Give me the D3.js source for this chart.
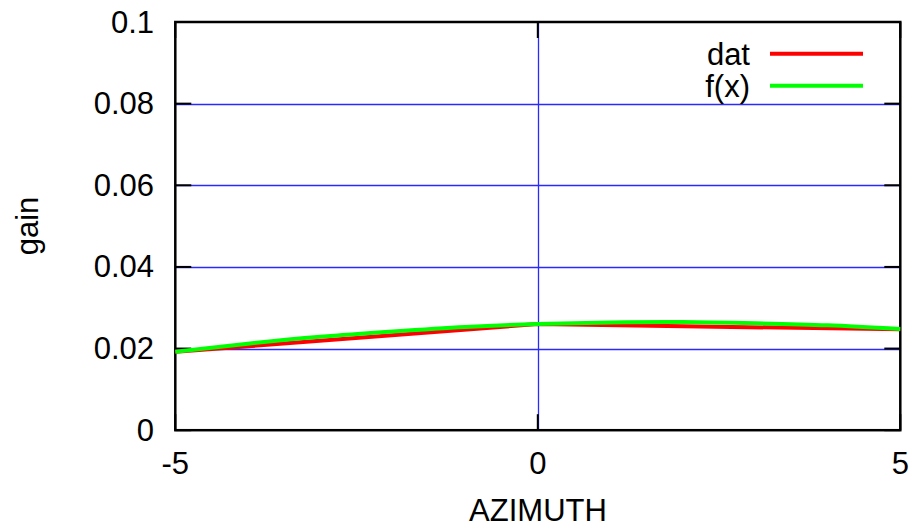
<!DOCTYPE html>
<html><head><meta charset="utf-8">
<script src="https://cdn.jsdelivr.net/npm/d3@7"></script>
<style>body{margin:0;background:#fff}svg{display:block}text{font-family:"Liberation Sans",Arial,sans-serif}</style>
</head><body>
<svg id="c" width="919" height="529"></svg>
<script>
const xTicks = [-5, 0, 5];
const yTicks = [0, 0.02, 0.04, 0.06, 0.08, 0.1];
const yTickLabels = ["0", "0.02", "0.04", "0.06", "0.08", "0.1"];
const datX = [-5, 0, 5];
const datY = [0.0192, 0.0260, 0.0247];
const fitX = [-5, -4, -3, -2, -1, 0, 1, 2, 3, 4, 5];
const fitY = [0.0192, 0.0212, 0.0229, 0.0242, 0.0253, 0.0260, 0.0264, 0.0265, 0.0262, 0.0257, 0.0248];
const seriesNames = ["dat", "f(x)"];
const seriesColors = ["#ff0000", "#00ff00"];

const svg = d3.select("#c");
const L = 175.3, R = 900.3, T = 22, B = 430.2;
const x = d3.scaleLinear().domain([-5, 5]).range([L, R]);
const y = d3.scaleLinear().domain([0, 0.1]).range([B, T]);
const fs = 31;
const gridColor = "#2a2aff";

// grid
svg.append("g").selectAll("line").data(yTicks.filter(v => v > 0 && v < 0.1)).join("line")
  .attr("x1", L).attr("x2", R).attr("y1", d => Math.round(y(d)) + 0.5).attr("y2", d => Math.round(y(d)) + 0.5)
  .attr("stroke", gridColor).attr("stroke-width", 1.3);
svg.append("g").selectAll("line").data(xTicks.filter(v => v > -5 && v < 5)).join("line")
  .attr("y1", T).attr("y2", B).attr("x1", d => Math.round(x(d)) + 0.5).attr("x2", d => Math.round(x(d)) + 0.5)
  .attr("stroke", gridColor).attr("stroke-width", 1.3);

// ticks
const tl = 16;
const tg = svg.append("g").attr("stroke", "#000").attr("stroke-width", 2);
yTicks.forEach(v => {
  tg.append("line").attr("x1", L).attr("x2", L + tl).attr("y1", y(v)).attr("y2", y(v));
  tg.append("line").attr("x1", R).attr("x2", R - tl).attr("y1", y(v)).attr("y2", y(v));
});
xTicks.forEach(v => {
  tg.append("line").attr("y1", B).attr("y2", B - tl).attr("x1", x(v)).attr("x2", x(v));
  tg.append("line").attr("y1", T).attr("y2", T + tl).attr("x1", x(v)).attr("x2", x(v));
});

// frame
svg.append("rect").attr("x", L).attr("y", T).attr("width", R - L).attr("height", B - T)
  .attr("fill", "none").attr("stroke", "#000").attr("stroke-width", 2.5);

// tick labels
svg.append("g").selectAll("text").data(yTicks).join("text")
  .attr("x", 154).attr("y", d => y(d) + 10.5).attr("text-anchor", "end")
  .attr("font-size", fs).text((d, i) => yTickLabels[i]);
svg.append("g").selectAll("text").data(xTicks).join("text")
  .attr("x", d => x(d)).attr("y", 473.5).attr("text-anchor", "middle")
  .attr("font-size", fs).text(d => String(d));

// axis titles
svg.append("text").attr("x", 538).attr("y", 521).attr("text-anchor", "middle").attr("font-size", fs).text("AZIMUTH");
svg.append("text").attr("transform", "translate(38,226) rotate(-90)").attr("text-anchor", "middle").attr("font-size", fs).text("gain");

// lines
const line = d3.line().x(d => x(d[0])).y(d => y(d[1]));
const datPts = datX.map((v, i) => [v, datY[i]]);
const fitPts = fitX.map((v, i) => [v, fitY[i]]);
svg.append("path").attr("d", line(datPts)).attr("fill", "none").attr("stroke", seriesColors[0]).attr("stroke-width", 4);
svg.append("path").attr("d", line.curve(d3.curveNatural)(fitPts)).attr("fill", "none").attr("stroke", seriesColors[1]).attr("stroke-width", 4);

// legend
const lg = svg.append("g");
[53.7, 85.7].forEach((ly, i) => {
  lg.append("text").attr("x", 750).attr("y", ly + 11).attr("text-anchor", "end").attr("font-size", fs).text(seriesNames[i]);
  lg.append("line").attr("x1", 770).attr("x2", 863).attr("y1", ly).attr("y2", ly)
    .attr("stroke", seriesColors[i]).attr("stroke-width", 4);
});
</script>
</body></html>
